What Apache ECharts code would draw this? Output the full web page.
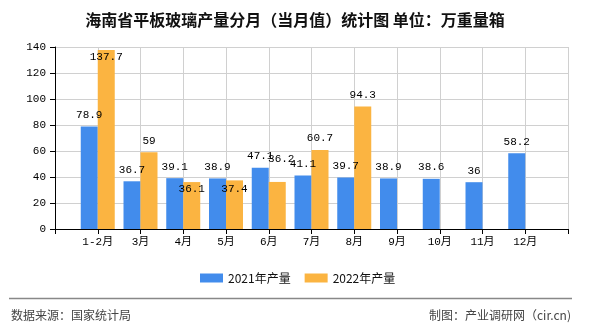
<!DOCTYPE html>
<html>
<head>
<meta charset="utf-8">
<script src="https://cdn.jsdelivr.net/npm/echarts@6/dist/echarts.min.js"></script>
<style>html,body{margin:0;padding:0;background:#fff}#c{width:590px;height:330px}</style>
</head>
<body>
<div id="c"></div>
<script>
const titleText = '海南省平板玻璃产量分月（当月值）统计图 单位：万重量箱';
const categories = ['1-2月', '3月', '4月', '5月', '6月', '7月', '8月', '9月', '10月', '11月', '12月'];
const seriesNames = ['2021年产量', '2022年产量'];
const values2021 = [78.9, 36.7, 39.1, 38.9, 47.1, 41.1, 39.7, 38.9, 38.6, 36, 58.2];
const values2022 = [137.7, 59, 36.1, 37.4, 36.2, 60.7, 94.3, null, null, null, null];
const yTicks = [0, 20, 40, 60, 80, 100, 120, 140];

const monoFont = '"Liberation Mono", "Noto Sans CJK SC", monospace';
const sansFont = '"Noto Sans CJK SC", "Noto Sans", sans-serif';

// label placement tweaks (index -> label config) for overlapping labels
const labelTweaks2022 = {
  0: { position: 'insideTop', distance: 2 },
  2: { position: 'insideTop', distance: 2 },
  3: { position: 'insideTop', distance: 3 },
  4: { position: 'top', distance: 17, offset: [4, 0] }
};

function padData(arr, tweaks) {
  const out = [null];
  arr.forEach((v, i) => {
    if (v === null) { out.push('-'); return; }
    if (tweaks && tweaks[i]) out.push({ value: v, label: tweaks[i] });
    else out.push(v);
  });
  out.push(null);
  return out;
}

const axisCats = [''].concat(categories, ['']);

const baseLabel = {
  show: true, position: 'top', distance: 6, color: '#000',
  fontFamily: monoFont, fontSize: 11
};

const chart = echarts.init(document.getElementById('c'), null, { renderer: 'canvas' });
chart.setOption({
  animation: false,
  backgroundColor: '#fff',
  title: {
    text: titleText, left: 'center', top: 7,
    textStyle: { fontSize: 16, fontWeight: 'bold', color: '#111', fontFamily: sansFont }
  },
  legend: {
    data: seriesNames, left: 195, top: 267,
    itemWidth: 23, itemHeight: 9, itemGap: 14,
    icon: 'rect',
    textStyle: { fontSize: 12, color: '#111', fontFamily: sansFont }
  },
  grid: { left: 55, right: 22, top: 47, bottom: 101, containLabel: false },
  xAxis: {
    type: 'category', data: axisCats, boundaryGap: false,
    axisLine: { lineStyle: { color: '#000', width: 1 } },
    axisTick: { show: true, length: 5, lineStyle: { color: '#000' }, interval: 0 },
    axisLabel: { interval: 0, margin: 8, color: '#000', fontSize: 11, fontFamily: monoFont },
    splitLine: { show: true, interval: 0, lineStyle: { color: '#d0d0d0' } }
  },
  yAxis: {
    type: 'value', min: yTicks[0], max: yTicks[yTicks.length - 1], interval: yTicks[1] - yTicks[0],
    axisLine: { show: true, lineStyle: { color: '#000' } },
    axisTick: { show: true, length: 5, lineStyle: { color: '#000' } },
    axisLabel: { margin: 9, color: '#000', fontSize: 11, fontFamily: monoFont },
    splitLine: { show: true, lineStyle: { color: '#d0d0d0' } }
  },
  series: [
    {
      name: seriesNames[0], type: 'bar', data: padData(values2021),
      barWidth: 17, barGap: '0%',
      itemStyle: { color: '#428CEC' },
      label: baseLabel
    },
    {
      name: seriesNames[1], type: 'bar', data: padData(values2022, labelTweaks2022),
      barWidth: 17, barGap: '0%',
      itemStyle: { color: '#FBB441' },
      label: baseLabel
    }
  ],
  graphic: [
    { type: 'line', shape: { x1: 9, y1: 298.5, x2: 572, y2: 298.5 }, style: { stroke: '#888', lineWidth: 1.5 } },
    { type: 'text', left: 11, top: 309, style: { text: '数据来源：国家统计局', fill: '#444', font: '12px ' + sansFont } },
    { type: 'text', right: 19, top: 309, style: { text: '制图：产业调研网（cir.cn)', fill: '#444', font: '12px ' + sansFont } }
  ]
});
</script>
</body>
</html>
